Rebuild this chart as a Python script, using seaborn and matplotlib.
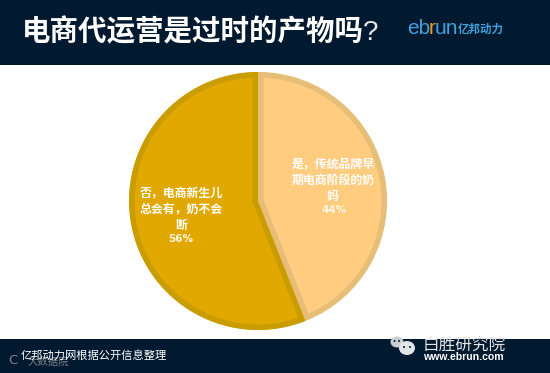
import matplotlib
matplotlib.use("Agg")
import matplotlib.pyplot as plt
from matplotlib.patches import Rectangle, Ellipse
import seaborn as sns

labels = ["是\uff0c传统品牌早\n期电商阶段的奶\n妈", "否\uff0c电商新生儿\n总会有\uff0c奶不会\n断"]
values = [44, 56]
pct_labels = ["44%", "56%"]
title = "电商代运营是过时的产物吗"
source = "亿邦动力网根据公开信息整理"
fills = ["#FFCC80", "#E0A800"]
edges = ["#E6BE78", "#C99C00"]

sns.set_theme(style="white")
CJK = ["Noto Sans CJK SC", "DejaVu Sans"]
plt.rcParams["font.family"] = CJK

W, H = 550, 373
fig = plt.figure(figsize=(5.5, 3.73), dpi=100, facecolor="white")
NAVY = "#021A30"
PT = 72 / 100

def band(y0, y1, color=NAVY):
    fig.add_artist(Rectangle((0, 1 - y1 / H), 1, (y1 - y0) / H, transform=fig.transFigure,
                             facecolor=color, edgecolor="none"))

def txt(x, y, s, **kw):
    kw.setdefault("family", CJK)
    kw.setdefault("va", "center")
    return fig.text(x / W, 1 - y / H, s, **kw)

band(0, 65)
band(339, 373)

# pie: centre (258, 201), radius 129 px; strokes are clipped to each wedge
cx, cy, r = 258, 201, 129
ax = fig.add_axes([(cx - r) / W, 1 - (cy + r) / H, 2 * r / W, 2 * r / H])
wedges, _ = ax.pie(values, startangle=90, counterclock=False, colors=sns.color_palette(fills),
                   radius=1, wedgeprops=dict(linewidth=11 * PT, joinstyle="miter"))
for w, e in zip(wedges, edges):
    w.set_edgecolor(e)
    w.set_clip_path(w)
    w.set_clip_on(True)
ax.set_xlim(-1, 1)
ax.set_ylim(-1, 1)
ax.set_aspect("equal")
ax.axis("off")

# title
txt(22, 32, title, color="white", fontsize=20.5, fontweight="bold")
txt(363, 33, "?", color="#E8E8E8", fontsize=20, family=["Liberation Sans"])

# logo
txt(407, 29, "eb", color="#3FA0DC", fontsize=15, family=["Liberation Sans"])
txt(429, 29, "r", color="#F09A1A", fontsize=15, family=["Liberation Sans"])
txt(435, 29, "un", color="#3FA0DC", fontsize=15, family=["Liberation Sans"])
txt(458, 29.5, "亿邦动力", color="#3FA0DC", fontsize=8.3, fontweight="bold")

# slice labels
txt(333, 180, labels[0], color="white", fontsize=8.6, fontweight="bold", ha="center", linespacing=1.31)
txt(334, 210, pct_labels[0], color="#FFF6E2", fontsize=7.5, fontweight="bold", ha="center", family=["DejaVu Sans"])
txt(181, 209, labels[1], color="white", fontsize=8.6, fontweight="bold", ha="center", linespacing=1.31)
txt(181, 239, pct_labels[1], color="#FFF6E2", fontsize=7.5, fontweight="bold", ha="center", family=["DejaVu Sans"])

# footer
txt(28, 362, "大数据院", color="#7D838B", fontsize=7.5)
txt(8, 361, "C", color="#7D838B", fontsize=9.5, family=["DejaVu Sans"])
txt(21, 356, source, color="white", fontsize=8.1)

# chat bubbles
def bubble(x, y, rx, ry, color):
    fig.add_artist(Ellipse((x / W, 1 - y / H), 2 * rx / W, 2 * ry / H, transform=fig.transFigure,
                           facecolor=color, edgecolor="none"))
bubble(397, 342, 6.5, 5.5, "#C9CDD1")
bubble(407, 348, 8, 7, "#E2E4E6")
for ex, ey, c, s in [(394.5, 341, NAVY, 1), (399, 341, NAVY, 1), (404, 347, NAVY, 1), (410, 347, NAVY, 1)]:
    bubble(ex, ey, s, s, c)

txt(423, 345, "白胜研究院", color="#E4E4E4", fontsize=12, fontweight="light")
txt(423, 357, "www.ebrun.com", color="white", fontsize=7.6, fontweight="bold", family=["Liberation Sans"])

fig.savefig("out.png", dpi=100, facecolor="white")
